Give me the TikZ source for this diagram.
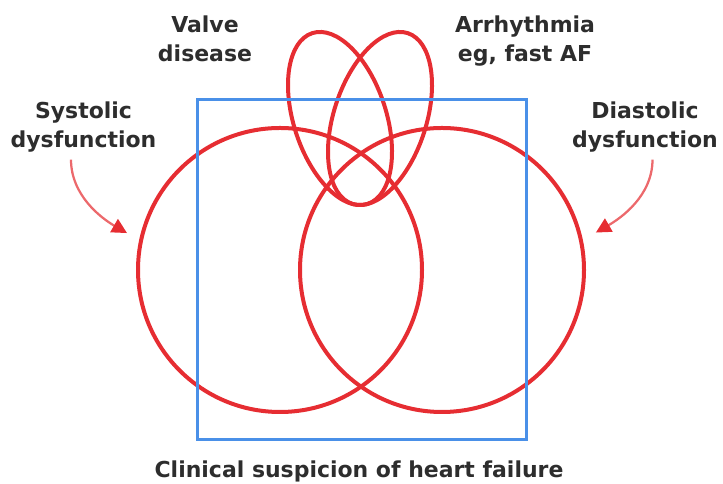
\documentclass[tikz,border=0pt]{standalone}
\usepackage{fontspec}
\setmainfont{DejaVu Sans}
\usetikzlibrary{shapes.geometric, arrows.meta, positioning}
\definecolor{venred}{RGB}{230, 45, 50}
\definecolor{venpink}{RGB}{236, 105, 108}
\definecolor{boxblue}{RGB}{74, 144, 232}
\definecolor{labelgray}{RGB}{45, 45, 45}

\begin{document}
\begin{tikzpicture}[
    ring/.style={circle, draw=venred, line width=0.08cm, minimum size=5.68cm,
                 inner sep=0pt},
    lobe/.style={ellipse, draw=venred, line width=0.08cm, minimum width=1.85cm,
                 minimum height=3.59cm, inner sep=0pt},
    tag/.style={font=\fontsize{12.5}{16.5}\selectfont\bfseries, text=labelgray,
                align=center, inner sep=0pt},
    pointer/.style={-{Triangle[length=0.3cm, width=0.3cm, color=venred]},
                    draw=venpink, line width=0.045cm},
]

\useasboundingbox (0,0) rectangle (14.46,9.68);

% Dysfunction circles
\node[ring] (sys) at (5.60,4.28) {};
\node[ring] (dia) at (8.84,4.28) {};

% Valve and rhythm lobes
\node[lobe, rotate=18] (valve) at (6.80,7.31) {};
\node[lobe, rotate=-18] (arr) at (7.60,7.31) {};

% Suspicion frame
\node[draw=boxblue, line width=0.06cm, minimum width=6.58cm,
      minimum height=6.8cm, inner sep=0pt] (frame) at (7.24,4.28) {};

% Labels
\node[tag, anchor=north] (systxt) at (1.67,7.66) {Systolic\\dysfunction};
\node[tag, anchor=north] (diatxt) at (12.90,7.66) {Diastolic\\dysfunction};
\node[tag, anchor=north] (valvetxt) at (4.10,9.38) {Valve\\disease};
\node[tag, anchor=north] (arrtxt) at (10.50,9.38) {Arrhythmia\\eg, fast AF};
\node[tag, anchor=base] (clintxt) at (7.18,0.12)
    {Clinical suspicion of heart failure};

% Arrows
\draw[pointer, shorten <=0.15cm, shorten >=0.28cm]
    ([xshift=-0.25cm]systxt.south) to[out=-90, in=150] (sys.168);
\draw[pointer, shorten <=0.15cm, shorten >=0.3cm]
    ([xshift=0.15cm]diatxt.south) to[out=-90, in=30] (dia.12);

\end{tikzpicture}
\end{document}
